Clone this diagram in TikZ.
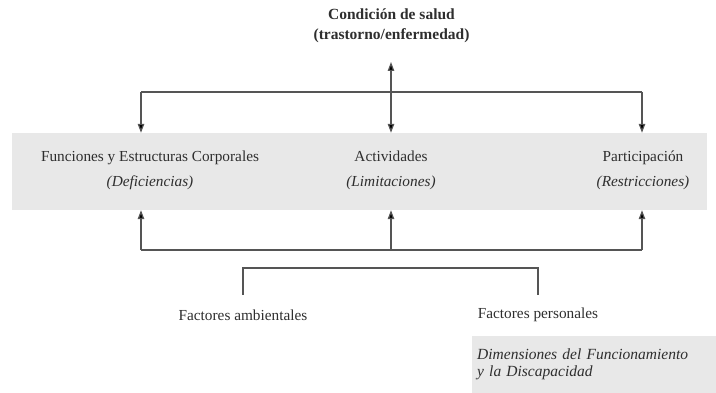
\documentclass[tikz,border=0pt]{standalone}
\usepackage{fontspec}
\setmainfont{Liberation Serif}
\usepackage{xcolor}
\definecolor{fondogris}{HTML}{E8E8E8}
\definecolor{textogris}{HTML}{2E2E2E}
\definecolor{lineagris}{HTML}{555555}
\usetikzlibrary{arrows.meta,positioning,calc}

\begin{document}
\begin{tikzpicture}[x=1pt,y=-1pt,
  titulo/.style={font=\fontsize{15.5}{20}\selectfont\bfseries,align=center,
                 text=textogris},
  banda/.style={fill=fondogris,draw=none,minimum width=695,minimum height=77,
                inner sep=0pt},
  comp/.style={font=\fontsize{15.3}{25}\selectfont,align=center,text=textogris},
  factor/.style={font=\fontsize{15.3}{17}\selectfont,text=textogris},
  nota/.style={fill=fondogris,draw=none,anchor=north west,minimum width=244,
               minimum height=57,text width=236,inner xsep=5pt,inner ysep=0pt,
               align=left,font=\fontsize{15.5}{17}\selectfont\itshape,
               text=textogris},
  linea/.style={draw=lineagris,line width=1.2pt},
  flecha/.style={linea,-{Triangle[length=9pt,width=6.5pt,fill=black]}},
  dflecha/.style={linea,{Triangle[length=9pt,width=6.5pt,fill=black]}-{Triangle[length=9pt,width=6.5pt,fill=black]}}
]
\useasboundingbox (0,0) rectangle (716,393);

% Condicion de salud
\node[titulo] (cond) at (391.5,26) {Condición de salud\\(trastorno/enfermedad)};

% Banda de componentes
\node[banda] (bnd) at (359.5,171.5) {};
\node[comp] (func) at (150,170) {Funciones y Estructuras Corporales\\\textit{(Deficiencias)}};
\node[comp] (act)  at (391,170) {Actividades\\\textit{(Limitaciones)}};
\node[comp] (part) at (643,170) {Participación\\\textit{(Restricciones)}};

% Factores contextuales
\node[factor] (amb)  at (243,315) {Factores ambientales};
\node[factor] (pers) at (538,315) {Factores personales};
\node[nota] (dim) at (472,336) {Dimensiones del Funcionamiento\\y la Discapacidad};

% Puntos de las lineas
\coordinate (ta) at (141,92);
\coordinate (tb) at (642,92);
\coordinate (tc) at (391,62);
\coordinate (ba) at (141,250);
\coordinate (bb) at (391,250);
\coordinate (bc) at (642,250);
\coordinate (ca) at (243,295);
\coordinate (cp) at (538,295);

% Flechas superiores
\draw[linea] (ta) -- (tb);
\draw[flecha] (ta) -- (ta |- bnd.north);
\draw[flecha] (tb) -- (tb |- bnd.north);
\draw[dflecha] (tc) -- (tc |- bnd.north);

% Flechas inferiores
\draw[linea] (ba) -- (bc);
\draw[flecha] (ba) -- (ba |- bnd.south);
\draw[flecha] (bb) -- (bb |- bnd.south);
\draw[flecha] (bc) -- (bc |- bnd.south);

% Corchete de factores
\draw[linea] (ca) -- ++(0,-27) -| (cp);

\end{tikzpicture}
\end{document}
